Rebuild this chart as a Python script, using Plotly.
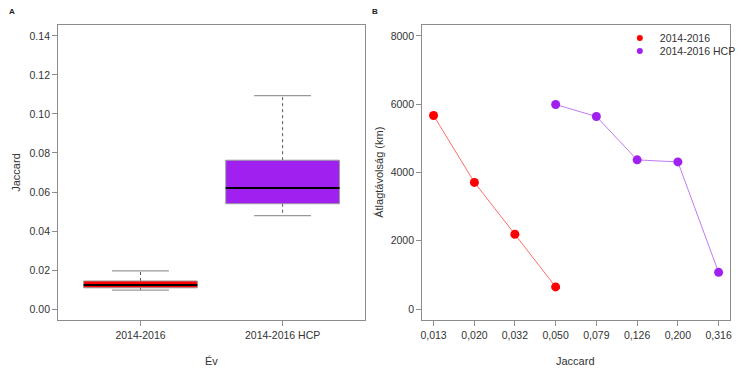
import plotly.graph_objects as go

# ---- Data ----
box_categories = ["2014-2016", "2014-2016 HCP"]
box_colors = ["#FF0000", "#A020F0"]
box_q1 = [0.0109, 0.0540]
box_median = [0.0123, 0.0620]
box_q3 = [0.0144, 0.0763]
box_lower = [0.0097, 0.0479]
box_upper = [0.0196, 0.1094]

jaccard_bins = [0.0126, 0.0200, 0.0316, 0.0501, 0.0794, 0.1259, 0.1995, 0.3162]
jaccard_labels = ["0,013", "0,020", "0,032", "0,050", "0,079", "0,126", "0,200", "0,316"]
series_names = ["2014-2016", "2014-2016 HCP"]
red_x = jaccard_bins[0:4]
red_dist = [5670, 3710, 2190, 650]
purple_x = jaccard_bins[3:8]
purple_dist = [5990, 5640, 4370, 4310, 1075]

FONT = "Liberation Sans, Arial, sans-serif"
GREY = "#8c8c8c"
TXT = "#333333"

fig = go.Figure()

# ---- Panel A: boxplots drawn from stats ----
half = 0.4
cap = 0.2
for i, cat in enumerate(box_categories):
    c = i + 1
    fig.add_trace(go.Scatter(
        x=[c, c, None, c, c],
        y=[box_q3[i], box_upper[i], None, box_q1[i], box_lower[i]],
        mode="lines", line=dict(color="#555555", width=1, dash="dot"),
        showlegend=False, hoverinfo="skip", xaxis="x", yaxis="y"))
    fig.add_trace(go.Scatter(
        x=[c - cap, c + cap, None, c - cap, c + cap],
        y=[box_upper[i], box_upper[i], None, box_lower[i], box_lower[i]],
        mode="lines", line=dict(color="#999999", width=1.2),
        showlegend=False, hoverinfo="skip", xaxis="x", yaxis="y"))
    fig.add_trace(go.Scatter(
        x=[c - half, c + half, c + half, c - half, c - half],
        y=[box_q1[i], box_q1[i], box_q3[i], box_q3[i], box_q1[i]],
        mode="lines", fill="toself", fillcolor=box_colors[i],
        line=dict(color="#999999", width=1),
        showlegend=False, hoverinfo="skip", xaxis="x", yaxis="y"))
    fig.add_trace(go.Scatter(
        x=[c - half, c + half], y=[box_median[i], box_median[i]],
        mode="lines", line=dict(color="#000000", width=2),
        showlegend=False, hoverinfo="skip", xaxis="x", yaxis="y"))

# ---- Panel B: lines ----
fig.add_trace(go.Scatter(
    x=red_x, y=red_dist, mode="lines+markers",
    line=dict(color="rgba(255,60,60,0.75)", width=1),
    marker=dict(color="#FF0000", size=9),
    showlegend=False, xaxis="x2", yaxis="y2"))
fig.add_trace(go.Scatter(
    x=purple_x, y=purple_dist, mode="lines+markers",
    line=dict(color="rgba(175,90,240,0.8)", width=1),
    marker=dict(color="#A020F0", size=9),
    showlegend=False, xaxis="x2", yaxis="y2"))
# legend entries (one legend each, to get tight row spacing)
for k, (name, col) in enumerate(zip(series_names, box_colors)):
    fig.add_trace(go.Scatter(
        x=[None], y=[None], mode="markers", name=name,
        marker=dict(color=col, size=6), xaxis="x2", yaxis="y2",
        legend="legend" if k == 0 else "legend2"))

W, H = 741, 369
def px_x(p): return p / W
def px_y(p): return 1 - p / H

axis_common = dict(
    showline=True, mirror=True, linecolor=GREY, linewidth=1,
    ticks="outside", ticklen=5, tickcolor=GREY, tickwidth=1,
    showgrid=False, zeroline=False,
    tickfont=dict(family=FONT, size=10.5, color=TXT),
)

legend_common = dict(xanchor="left", yanchor="middle", bgcolor="rgba(0,0,0,0)",
                     font=dict(family=FONT, size=10.5, color=TXT),
                     itemwidth=30, borderwidth=0)

def ann(text, x, y, size=11, angle=0, color=TXT):
    return dict(text=text, x=px_x(x), y=px_y(y), xref="paper", yref="paper",
                xanchor="center", yanchor="middle", textangle=angle,
                showarrow=False, font=dict(size=size, family=FONT, color=color))

fig.update_layout(
    width=W, height=H,
    margin=dict(l=0, r=0, t=0, b=0),
    paper_bgcolor="white", plot_bgcolor="white",
    font=dict(family=FONT, color=TXT),
    xaxis=dict(domain=[px_x(57), px_x(369)], range=[0.42, 2.58],
               tickvals=[1, 2], ticktext=box_categories, anchor="y", **axis_common),
    yaxis=dict(domain=[px_y(320), px_y(25)], range=[-0.0056, 0.1456],
               tickvals=[0, 0.02, 0.04, 0.06, 0.08, 0.10, 0.12, 0.14],
               tickformat=".2f", anchor="x", **axis_common),
    xaxis2=dict(domain=[px_x(427), px_x(740)], type="log",
                range=[-1.956, -0.444], tickvals=jaccard_bins, ticktext=jaccard_labels,
                anchor="y2", **axis_common),
    yaxis2=dict(domain=[px_y(320), px_y(25)], range=[-320, 8320],
                tickvals=[0, 2000, 4000, 6000, 8000], tickformat="d",
                anchor="x2", **axis_common),
    legend=dict(x=px_x(628), y=px_y(38), **legend_common),
    legend2=dict(x=px_x(628), y=px_y(51), **legend_common),
    annotations=[
        ann("<b>A</b>", 10, 11, size=8, color="#222"),
        ann("<b>B</b>", 379, 11, size=8, color="#222"),
        ann("Jaccard", 14, 172, angle=-90),
        ann("Év", 213, 361),
        ann("Átlagtávolság (km)", 383, 172, angle=-90),
        ann("Jaccard", 583, 361),
    ],
)

fig.write_html("out.html", config={"displayModeBar": False},
               post_script="document.body.style.margin='0';document.body.style.padding='0';")
